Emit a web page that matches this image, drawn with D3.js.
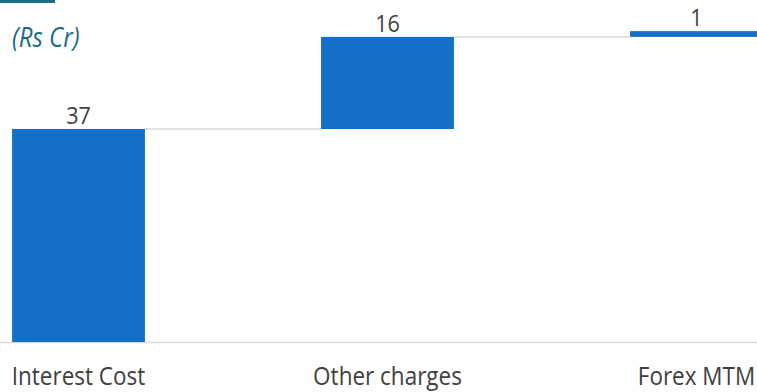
<!DOCTYPE html>
<html>
<head>
<meta charset="utf-8">
<script src="https://cdn.jsdelivr.net/npm/d3@7"></script>
<style>
  body { margin: 0; background: #fff; }
  svg { display: block; font-family: "Open Sans", "Noto Sans", sans-serif; }
</style>
</head>
<body>
<div id="vis"></div>
<script>
// data
const CATEGORIES = ["Interest Cost", "Other charges", "Forex MTM"];
const VALUES = [37, 16, 1];
const UNIT_LABEL = "(Rs Cr)";

const FRAME_WIDTH = 757;
const FRAME_HEIGHT = 392;
const BASE_Y = 342;
const STRETCH = 1.12; // text in the original looks a bit tall & narrow

const FRAME = d3.select("#vis")
  .append("svg")
    .attr("width", FRAME_WIDTH)
    .attr("height", FRAME_HEIGHT);

// running totals for the waterfall
let run = 0;
const bars = CATEGORIES.map((c, i) => {
  const start = run;
  run += VALUES[i];
  return {cat: c, value: VALUES[i], start: start, end: run};
});

const X_SCALE = d3.scaleBand()
  .domain(CATEGORIES)
  .range([-76, 851])
  .paddingInner(0.57)
  .paddingOuter(0.285);

const Y_SCALE = d3.scaleLinear()
  .domain([0, 37])
  .range([BASE_Y, 129]);

function place(x, y) {
  return "translate(" + x + "," + y + ") scale(1," + STRETCH + ")";
}

// teal accent line + unit label
FRAME.append("rect")
  .attr("x", 0).attr("y", 0)
  .attr("width", 55).attr("height", 3)
  .attr("fill", "#1b6a87");

FRAME.append("text")
  .attr("transform", place(12, 47))
  .attr("font-size", 24)
  .attr("font-style", "italic")
  .attr("fill", "#1b6a87")
  .text(UNIT_LABEL);

// connector lines
FRAME.selectAll(".conn")
  .data(bars.slice(0, -1))
  .enter()
  .append("line")
    .attr("x1", (d) => X_SCALE(d.cat) + X_SCALE.bandwidth())
    .attr("x2", (d, i) => X_SCALE(CATEGORIES[i + 1]))
    .attr("y1", (d) => Y_SCALE(d.end))
    .attr("y2", (d) => Y_SCALE(d.end))
    .attr("stroke", "#d9d9d9")
    .attr("stroke-width", 1.5);

// baseline axis
FRAME.append("line")
  .attr("x1", 0).attr("x2", FRAME_WIDTH)
  .attr("y1", BASE_Y + 0.5).attr("y2", BASE_Y + 0.5)
  .attr("stroke", "#d9d9d9")
  .attr("stroke-width", 1.5);

// bars
FRAME.selectAll(".bar")
  .data(bars)
  .enter()
  .append("rect")
    .attr("class", "bar")
    .attr("x", (d) => X_SCALE(d.cat))
    .attr("y", (d) => Y_SCALE(d.end))
    .attr("width", X_SCALE.bandwidth())
    .attr("height", (d) => Y_SCALE(d.start) - Y_SCALE(d.end))
    .attr("fill", "#136fc8");

// value labels
FRAME.selectAll(".val")
  .data(bars)
  .enter()
  .append("text")
    .attr("transform", (d) => place(X_SCALE(d.cat) + X_SCALE.bandwidth() / 2, Y_SCALE(d.end) - 5))
    .attr("text-anchor", "middle")
    .attr("font-size", 21.5)
    .attr("fill", "#404040")
    .text((d) => d.value);

// category labels
FRAME.selectAll(".cat")
  .data(CATEGORIES)
  .enter()
  .append("text")
    .attr("transform", (d) => place(X_SCALE(d) + X_SCALE.bandwidth() / 2, 385))
    .attr("text-anchor", "middle")
    .attr("font-size", 22.5)
    .attr("fill", "#404040")
    .text((d) => d);
</script>
</body>
</html>
